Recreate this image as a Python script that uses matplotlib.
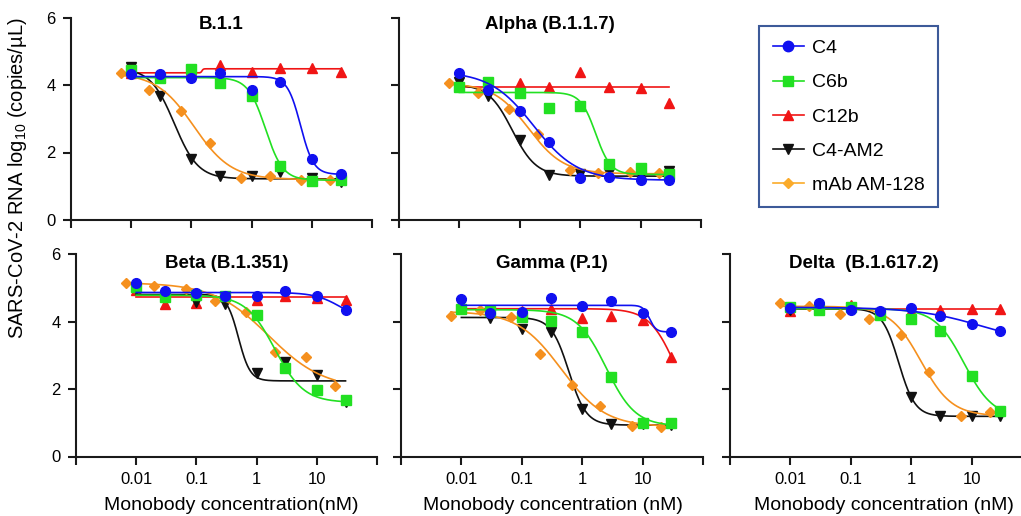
import numpy as np
import matplotlib
matplotlib.use('Agg')
import matplotlib.pyplot as plt
from matplotlib.lines import Line2D

plt.rcParams['font.family'] = ['Liberation Sans', 'DejaVu Sans']
plt.rcParams['mathtext.fontset'] = 'custom'
plt.rcParams['mathtext.rm'] = 'Liberation Sans'
plt.rcParams['mathtext.it'] = 'Liberation Sans:italic'
plt.rcParams['mathtext.bf'] = 'Liberation Sans:bold'

# ---------------- data ----------------
conc_mb = [0.01, 0.03, 0.1, 0.3, 1, 3, 10, 30]                    # monobodies (nM)
conc_mab = [0.00667, 0.02, 0.0667, 0.2, 0.667, 2, 6.67, 20]       # mAb AM-128 (nM)

series_names = ['C4', 'C6b', 'C12b', 'C4-AM2', 'mAb AM-128']
panel_titles = ['B.1.1', 'Alpha (B.1.1.7)', 'Beta (B.1.351)', 'Gamma (P.1)', 'Delta  (B.1.617.2)']
x_tick_values = [0.001, 0.01, 0.1, 1, 10, 100]
x_tick_labels = ['', '0.01', '0.1', '1', '10', '']
y_tick_values = [0, 2, 4, 6]
x_labels = ['Monobody concentration(nM)', 'Monobody concentration (nM)', 'Monobody concentration (nM)']

# log10 RNA copies/uL, order: C4, C6b, C12b, C4-AM2, mAb AM-128
b111_c4 = [4.33, 4.33, 4.20, 4.35, 3.84, 4.08, 1.81, 1.37]
b111_c6b = [4.43, 4.21, 4.46, 4.05, 3.68, 1.59, 1.16, 1.19]
b111_c12b = [4.35, 4.25, 4.42, 4.58, 4.38, 4.50, 4.51, 4.40]
b111_am2 = [4.53, 3.68, 1.81, 1.29, 1.29, 1.41, 1.24, 1.14]
b111_mab = [4.36, 3.86, 3.23, 2.29, 1.24, 1.29, 1.19, 1.19]

alpha_c4 = [4.35, 3.85, 3.24, 2.30, 1.23, 1.28, 1.20, 1.20]
alpha_c6b = [3.93, 4.08, 3.75, 3.32, 3.39, 1.65, 1.53, 1.36]
alpha_c12b = [4.00, 4.00, 4.05, 3.93, 4.38, 3.93, 3.91, 3.46]
alpha_am2 = [4.08, 3.66, 2.37, 1.33, 1.36, 1.38, 1.31, 1.44]
alpha_mab = [4.05, 3.77, 3.29, 2.54, 1.48, 1.38, 1.41, 1.38]

beta_c4 = [5.13, 4.91, 4.85, 4.76, 4.76, 4.91, 4.77, 4.34]
beta_c6b = [5.03, 4.73, 4.80, 4.75, 4.18, 2.63, 1.98, 1.68]
beta_c12b = [4.93, 4.51, 4.55, 4.75, 4.65, 4.76, 4.70, 4.63]
beta_am2 = [4.95, 4.75, 4.58, 4.53, 2.46, 2.80, 2.41, 1.61]
beta_mab = [5.15, 5.06, 4.95, 4.60, 4.29, 3.09, 2.95, 2.10]

gamma_c4 = [4.66, 4.25, 4.29, 4.69, 4.46, 4.61, 4.24, 3.69]
gamma_c6b = [4.38, 4.32, 4.12, 4.02, 3.69, 2.36, 0.99, 0.99]
gamma_c12b = [4.40, 4.35, 4.30, 4.38, 4.11, 4.17, 4.04, 2.96]
gamma_am2 = [4.56, 4.10, 3.79, 3.69, 1.41, 0.97, 0.95, 0.94]
gamma_mab = [4.15, 4.34, 4.12, 3.05, 2.12, 1.49, 0.91, 0.87]

delta_c4 = [4.39, 4.56, 4.33, 4.30, 4.39, 4.15, 3.93, 3.72]
delta_c6b = [4.42, 4.35, 4.44, 4.20, 4.08, 3.72, 2.39, 1.35]
delta_c12b = [4.30, 4.39, 4.49, 4.27, 4.30, 4.35, 4.37, 4.37]
delta_am2 = [4.35, 4.37, 4.39, 4.25, 1.77, 1.19, 1.19, 1.19]
delta_mab = [4.54, 4.47, 4.23, 4.08, 3.60, 2.49, 1.20, 1.32]

# fitted 4PL curves: (top, bottom, EC50 nM, Hill slope), same series order
b111_fit = [(4.25, 1.35, 6.5, 4.0), (4.22, 1.18, 1.7, 3.0), (4.36, 4.48, 0.15, 40.0),
            (4.50, 1.22, 0.052, 2.2), (4.35, 1.20, 0.11, 1.4)]
alpha_fit = [(4.40, 1.18, 0.17, 1.2), (3.78, 1.35, 1.8, 3.5), (3.95, 3.95, 1.0, 1.0),
             (4.02, 1.30, 0.075, 2.2), (4.05, 1.37, 0.14, 1.5)]
beta_fit = [(4.86, 4.00, 25.0, 2.0), (4.78, 1.60, 2.0, 1.8), (4.73, 4.73, 1.0, 1.0),
            (4.80, 2.24, 0.50, 4.5), (5.15, 2.00, 1.6, 0.95)]
gamma_fit = [(4.48, 3.69, 13.0, 8.0), (4.35, 0.90, 2.5, 1.8), (4.38, 1.00, 35.0, 2.0),
             (4.12, 0.93, 0.60, 3.0), (4.30, 0.88, 0.45, 1.2)]
delta_fit = [(4.42, 3.30, 15.0, 0.8), (4.38, 1.15, 7.5, 1.8), (4.37, 4.37, 1.0, 1.0),
             (4.38, 1.19, 0.62, 3.2), (4.45, 1.20, 1.45, 1.7)]

panel_values = [
    [b111_c4, b111_c6b, b111_c12b, b111_am2, b111_mab],
    [alpha_c4, alpha_c6b, alpha_c12b, alpha_am2, alpha_mab],
    [beta_c4, beta_c6b, beta_c12b, beta_am2, beta_mab],
    [gamma_c4, gamma_c6b, gamma_c12b, gamma_am2, gamma_mab],
    [delta_c4, delta_c6b, delta_c12b, delta_am2, delta_mab],
]
panel_fits = [b111_fit, alpha_fit, beta_fit, gamma_fit, delta_fit]

# ---------------- style ----------------
colors = ['#1010f0', '#22e022', '#f01515', '#111111', '#f5901e']
legend_colors = ['#1010f0', '#22e022', '#f01515', '#111111', '#fbab2a']
markers = ['o', 's', '^', 'v', 'D']
msizes = [7.0, 6.5, 7.0, 7.0, 5.0]
zorders = [7, 6, 3, 4, 5]

W, H = 1021, 516
fig = plt.figure(figsize=(W / 100, H / 100), dpi=100)

# axes rectangles in pixels: left, top, right, bottom
rects = [(71, 17.5, 372, 220), (399, 17.5, 701, 220),
         (76, 254, 377, 456.5), (401, 254, 703, 456.5), (730, 254, 1032, 456.5)]
title_pos = [(0.5, 0.963), (0.5, 0.963), (0.5, 0.953), (0.5, 0.953), (0.444, 0.953)]


def fourpl(x, top, bottom, ec50, hill):
    return bottom + (top - bottom) / (1.0 + (x / ec50) ** hill)


for i, (l, t, r, b) in enumerate(rects):
    ax = fig.add_axes([l / W, 1 - b / H, (r - l) / W, (b - t) / H])
    ax.set_xscale('log')
    ax.set_xlim(1e-3, 1e2)
    ax.set_ylim(0, 6)
    for j in range(5):
        xs = conc_mab if j == 4 else conc_mb
        top, bot, ec50, hill = panel_fits[i][j]
        xc = np.logspace(np.log10(xs[0]), np.log10(xs[-1]), 400)
        ax.plot(xc, fourpl(xc, top, bot, ec50, hill), color=colors[j], lw=1.2,
                zorder=zorders[j])
        ax.plot(xs, panel_values[i][j], linestyle='none', marker=markers[j],
                ms=msizes[j], color=colors[j], mec=colors[j], zorder=zorders[j] + 0.5,
                clip_on=False)
    ax.set_xticks(x_tick_values)
    ax.minorticks_off()
    ax.set_yticks(y_tick_values)
    if i >= 2:
        ax.set_xticklabels(x_tick_labels)
    else:
        ax.set_xticklabels([])
    if i in (0, 2):
        ax.set_yticklabels([str(v) for v in y_tick_values])
    else:
        ax.set_yticklabels([])
    for s in ['top', 'right']:
        ax.spines[s].set_visible(False)
    for s in ['left', 'bottom']:
        ax.spines[s].set_linewidth(1.5)
        ax.spines[s].set_color('#1a1a1a')
    ax.tick_params(axis='both', which='major', direction='out', length=6, width=1.5,
                   color='#1a1a1a', labelsize=12)
    ax.tick_params(axis='y', pad=5)
    ax.tick_params(axis='x', pad=5)
    ax.set_facecolor('none')
    tx, ty = title_pos[i]
    ax.text(tx, ty, panel_titles[i], transform=ax.transAxes, ha='center', va='center',
            fontsize=13.5, fontweight='bold')

# x labels
xlabel_px = [231, 553, 884]
for k, xp in enumerate(xlabel_px):
    fig.text(xp / W, 1 - 510 / H, x_labels[k], ha='center', va='baseline', fontsize=14)

# y label
fig.text(18 / W, 1 - 178 / H, 'SARS-CoV-2 RNA log$_{10}$ (copies/µL)', rotation=90,
         ha='center', va='center', fontsize=14.5)

# legend
handles = [Line2D([0], [0], color=legend_colors[j], marker=markers[j], ms=msizes[j] + 0.5,
                  lw=1.2, mec=legend_colors[j]) for j in range(5)]
leg = fig.legend(handles, series_names, loc='upper left',
                 bbox_to_anchor=(759 / W, 1 - 26 / H), bbox_transform=fig.transFigure,
                 frameon=True, fancybox=False, edgecolor='#3d5a99', framealpha=1,
                 fontsize=14, handlelength=1.6, handletextpad=0.4, labelspacing=0.85,
                 borderpad=0.7, borderaxespad=0)
leg.get_frame().set_linewidth(1.5)

fig.savefig('out.png', dpi=100)
